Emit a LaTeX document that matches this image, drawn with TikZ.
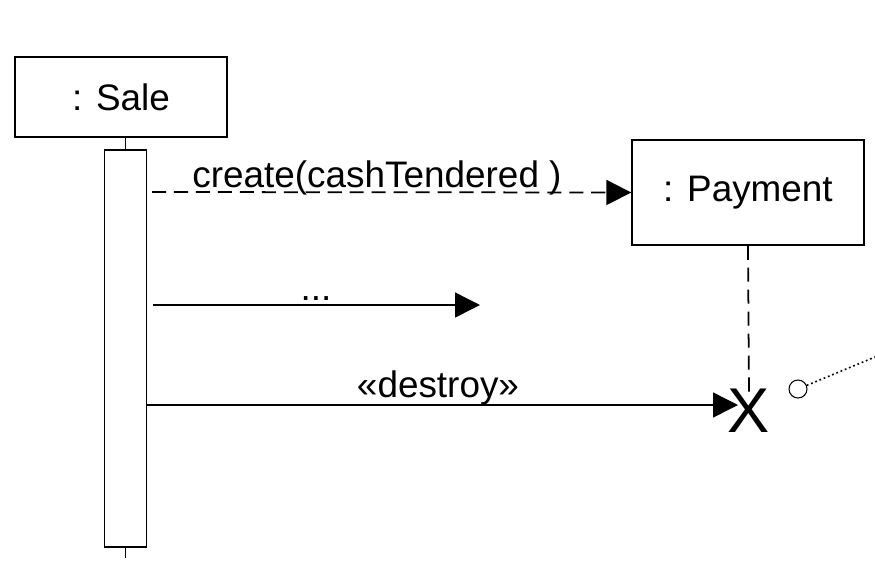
\documentclass[tikz,border=0pt]{standalone}
\usepackage{fontspec}
\setmainfont{Liberation Sans}
\usetikzlibrary{arrows.meta}

\begin{document}
\begin{tikzpicture}[x=0.02cm,y=-0.02cm,line width=0.8pt,
	every node/.style={font=\fontsize{21}{24}\selectfont},
	obj/.style={draw,inner sep=0,minimum width=#1},
	msg/.style={-{Triangle[length=0.5cm,width=0.5cm]}},
	lifedash/.style={line width=1pt,dash pattern=on 8pt off 4.5pt}]
	\useasboundingbox (0,0) rectangle(875,586);
	% objects
	\node[obj=4.24cm,minimum height=1.6cm] (sale) at(121,97){: Sale};
	\node[obj=4.64cm,minimum height=2.1cm] (pay) at(748,192.5){: Payment};
	\node[obj=0.84cm,minimum height=7.94cm] (bar) at(125.5,348.5){};
	% lifelines
	\coordinate (saleend) at(125.5,558);
	\coordinate (payend) at(749,397);
	\draw [line width=1pt](bar.north |- sale.south)--(bar.north);
	\draw [line width=1pt](bar.south)--(saleend);
	\draw [lifedash](pay.south)--(payend);
	% messages
	\coordinate (c1) at(152,192);
	\coordinate (m1) at(153,305);
	\coordinate (m2) at(480,305);
	\coordinate (d1) at(146,405);
	\coordinate (d2) at(738,405);
	\draw [msg,lifedash](c1)--(pay.west);
	\draw [msg](m1)--(m2);
	\draw [msg](d1)--(d2);
	\node (lcreate) at(377,187)[anchor=base,inner sep=0]{create(cashTendered )};
	\node (ldots) at(316,300)[anchor=base,inner sep=0]{...};
	\node (ldestroy) at(438,397)[anchor=base,inner sep=0]{«destroy»};
	% destruction
	\node (kill) at(749,411)[inner sep=0,font=\fontsize{36}{40}\selectfont]{X};
	\node (note) at(798,389)[circle,draw,line width=0.6pt,inner sep=0,minimum size=0.36cm]{};
	\coordinate (noteend) at(875,357);
	\draw [line width=0.9pt,dash pattern=on 1pt off 1.6pt](note)--(noteend);
\end{tikzpicture}
\end{document}
